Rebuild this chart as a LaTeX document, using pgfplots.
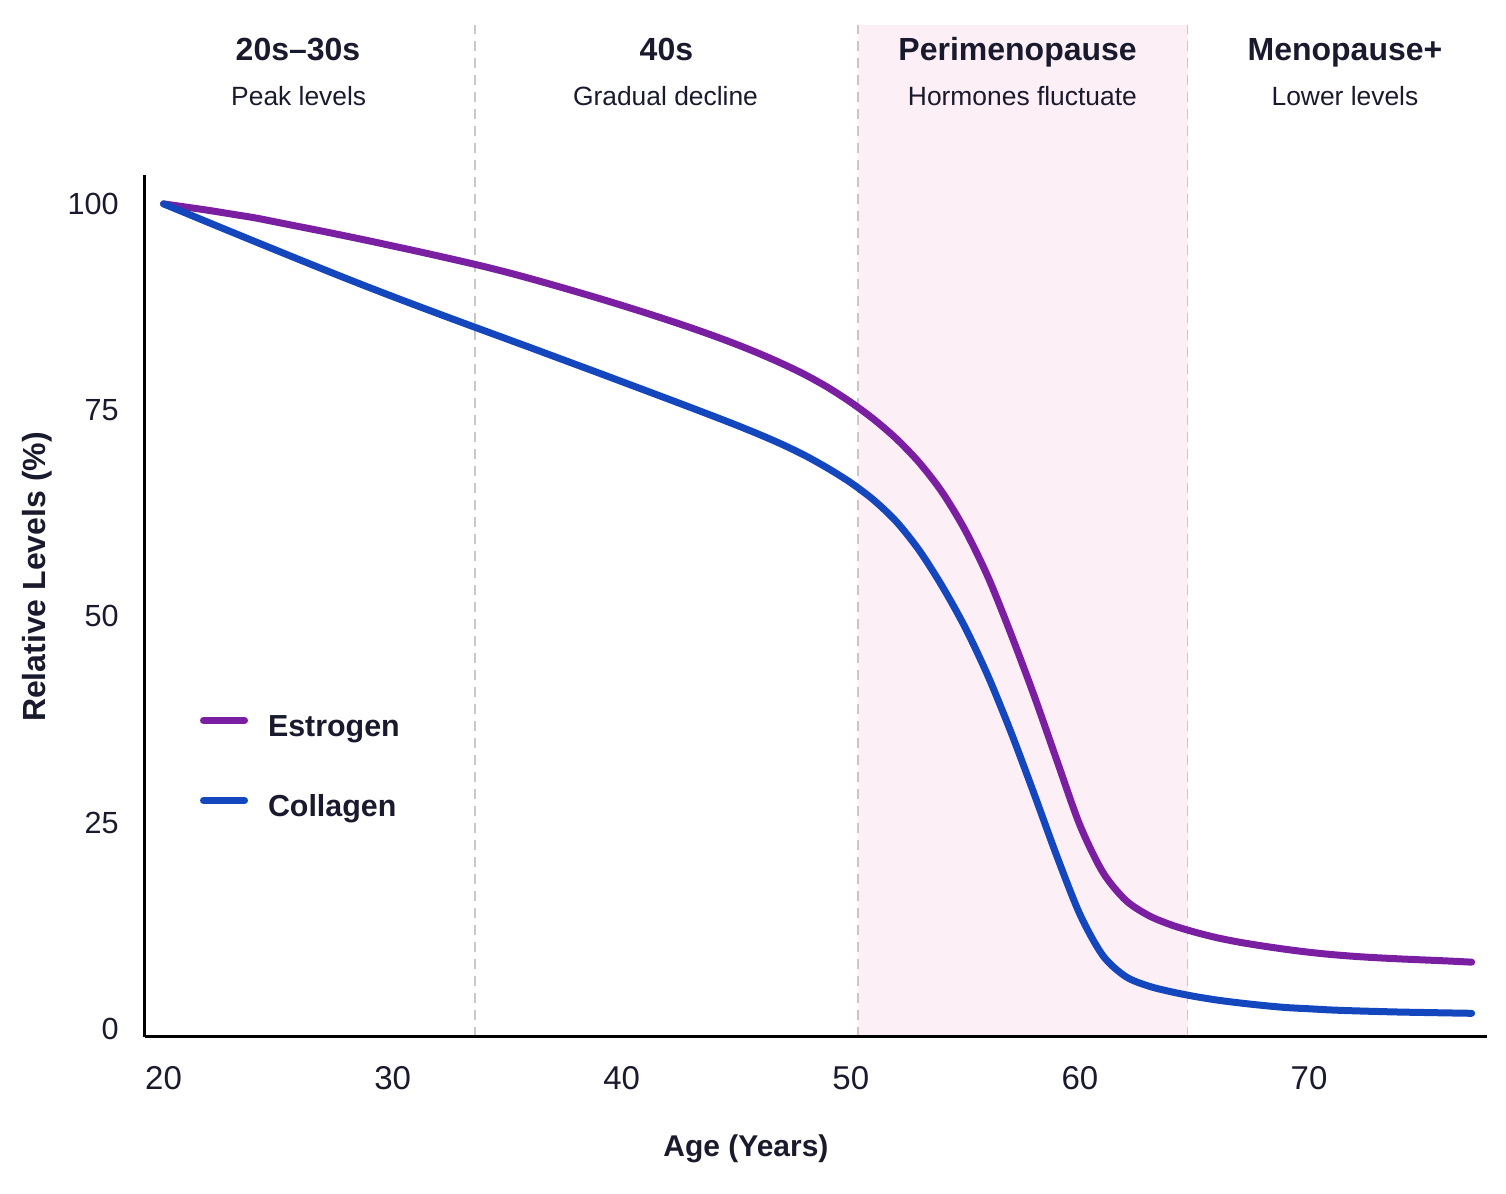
\documentclass[border=0pt]{standalone}
\usepackage{fontspec}
\setmainfont{Liberation Sans}
\usepackage{pgfplots}
\usepackage{pgfplotstable}
\pgfplotsset{compat=1.18}
\definecolor{estro}{HTML}{7B1FA2}
\definecolor{colla}{HTML}{1447BE}
\definecolor{pinkbg}{HTML}{FDEFF6}
\definecolor{dashgray}{HTML}{C8C8C8}
\definecolor{txt}{HTML}{1A1A2E}

\pgfplotstableread{
age val
20 100
21 99.6
22 99.2
23 98.75
24 98.3
25 97.75
26 97.2
27 96.65
28 96.08
29 95.5
30 94.9
31 94.3
32 93.68
33 93.05
34 92.4
35 91.7
36 90.95
37 90.17
38 89.37
39 88.55
40 87.7
41 86.83
42 85.93
43 85.0
44 84.02
45 82.98
46 81.86
47 80.64
48 79.3
49 77.75
50 75.95
51 73.9
52 71.5
53 68.6
54 65.0
55 60.4
56 54.7
57 47.8
58 40.4
59 32.5
60 24.7
61 19.0
62 15.6
63 13.75
64 12.6
65 11.75
66 11.05
67 10.5
68 10.05
69 9.65
70 9.3
71 9.02
72 8.8
73 8.63
74 8.49
75 8.37
76 8.25
77.1 8.1
}\estrogen

\pgfplotstableread{
age val
20 100
21 98.85
22 97.7
23 96.56
24 95.42
25 94.29
26 93.16
27 92.04
28 90.93
29 89.84
30 88.77
31 87.72
32 86.68
33 85.65
34 84.63
35 83.61
36 82.59
37 81.56
38 80.53
39 79.5
40 78.46
41 77.42
42 76.38
43 75.33
44 74.27
45 73.19
46 72.06
47 70.85
48 69.5
49 67.95
50 66.2
51 64.1
52 61.45
53 57.95
54 53.6
55 48.6
56 42.7
57 35.9
58 28.5
59 20.9
60 13.9
61 8.9
62 6.35
63 5.2
64 4.5
65 3.95
66 3.5
67 3.15
68 2.85
69 2.6
70 2.45
71 2.3
72 2.2
73 2.12
74 2.05
75 2.0
76 1.95
77.1 1.9
}\collagen

\begin{document}
\begin{tikzpicture}
\path[use as bounding box] (-72.5pt,-78.5pt) rectangle (680.5pt,518.5pt);
\begin{axis}[
  scale only axis, width=671pt, height=431pt,
  xmin=19.19, xmax=77.77, ymin=-0.97, ymax=103.5,
  axis x line=bottom, axis y line=left,
  axis line style={line width=1.5pt, black, -},
  axis on top,
  clip=false,
  major tick length=0pt,
  xtick={20,30,40,50,60,70},
  ytick={0,25,50,75,100},
  /pgf/number format/assume math mode=true,
  xticklabel style={font=\fontsize{16.5}{18}\selectfont, text=txt, inner sep=0pt, anchor=north, yshift=-14.5pt},
  yticklabel style={font=\fontsize{15.3}{17}\selectfont, text=txt, inner sep=0pt, anchor=east, xshift=-13pt},
  xlabel={Age (Years)},
  ylabel={Relative Levels (\%)},
  x label style={at={([yshift=-60pt]axis description cs:0.4478,0)}, anchor=base, font=\bfseries\fontsize{15}{18}\selectfont, text=txt, inner sep=0pt},
  y label style={at={([xshift=-49.5pt]axis description cs:0,0.5336)}, anchor=base, rotate=0, font=\bfseries\fontsize{16}{18}\selectfont, text=txt, inner sep=0pt},
  legend style={draw=none, fill=none, at={(rel axis cs:0.041,0.3747)}, anchor=north west,
    inner sep=0pt, outer sep=0pt, row sep=25.5pt, column sep=10pt,
    font=\bfseries\fontsize{15.2}{18}\selectfont, text=txt,
    nodes={inner sep=0pt, text height=11pt, text depth=3.5pt}},
  legend cell align=left,
  legend image code/.code={\draw[#1, line width=3.5pt, line cap=round] (1.75pt,0.4em) -- (22.25pt,0.4em);},
]
\fill[pinkbg] (axis cs:50.3,-0.97) rectangle (axis cs:64.7,121.7);
\draw[dashgray, line width=0.8pt, dash pattern=on 5pt off 3.5pt] (axis cs:33.6,-0.97) -- (axis cs:33.6,121.7);
\draw[dashgray, line width=0.8pt, dash pattern=on 5pt off 3.5pt] (axis cs:50.3,-0.97) -- (axis cs:50.3,121.7);
\draw[dashgray, line width=0.8pt, dash pattern=on 5pt off 3.5pt] (axis cs:64.7,-0.97) -- (axis cs:64.7,121.7);

\addplot[estro, line width=3.5pt, smooth, tension=0.5, line cap=round, line join=round] table[x=age,y=val] {\estrogen};
\addlegendentry{Estrogen}
\addplot[colla, line width=3.5pt, smooth, tension=0.5, line cap=round, line join=round] table[x=age,y=val] {\collagen};
\addlegendentry{Collagen}

\node[anchor=base, font=\bfseries\fontsize{16}{19}\selectfont, text=txt] at (axis cs:25.87,117.33) {20s–30s};
\node[anchor=base, font=\bfseries\fontsize{16}{19}\selectfont, text=txt] at (axis cs:41.95,117.33) {40s};
\node[anchor=base, font=\bfseries\fontsize{16}{19}\selectfont, text=txt] at (axis cs:57.28,117.33) {Perimenopause};
\node[anchor=base, font=\bfseries\fontsize{16}{19}\selectfont, text=txt] at (axis cs:71.57,117.33) {Menopause+};
\node[anchor=base, font=\fontsize{13.2}{16}\selectfont, text=txt] at (axis cs:25.9,111.88) {Peak levels};
\node[anchor=base, font=\fontsize{13.2}{16}\selectfont, text=txt] at (axis cs:41.91,111.88) {Gradual decline};
\node[anchor=base, font=\fontsize{13.2}{16}\selectfont, text=txt] at (axis cs:57.49,111.88) {Hormones fluctuate};
\node[anchor=base, font=\fontsize{13.2}{16}\selectfont, text=txt] at (axis cs:71.57,111.88) {Lower levels};
\end{axis}
\end{tikzpicture}
\end{document}
